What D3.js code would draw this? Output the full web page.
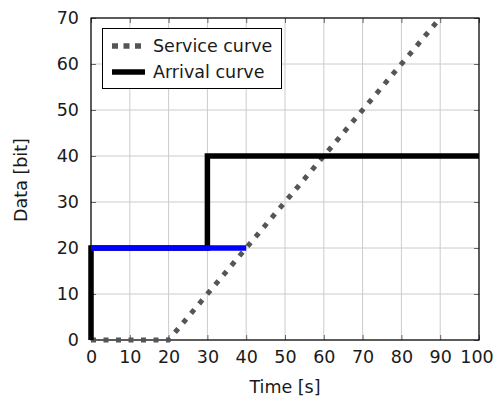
<!DOCTYPE html>
<html>
<head>
<meta charset="utf-8">
<script src="https://cdn.jsdelivr.net/npm/d3@7"></script>
<style>
  body { margin: 0; background: #fff; }
  text { font-family: "DejaVu Sans", sans-serif; }
</style>
</head>
<body>
<div id="chart"></div>
<script>
const xTicks = [0, 10, 20, 30, 40, 50, 60, 70, 80, 90, 100];
const yTicks = [0, 10, 20, 30, 40, 50, 60, 70];

const serviceX = [0, 20, 90];
const serviceY = [0, 0, 70];

const arrivalX = [0, 0, 30, 30, 100];
const arrivalY = [0, 20, 20, 40, 40];

const highlightX = [0, 40];
const highlightY = [20, 20];

const legendNames = ['Service curve', 'Arrival curve'];

const w = 494, h = 399;
const padL = 91, padR = 479, padT = 18, padB = 340;
const fs = 17.5;

const svg = d3.select('#chart').append('svg')
  .attr('width', w)
  .attr('height', h);

const xScale = d3.scaleLinear().domain([0, 100]).range([padL, padR]);
const yScale = d3.scaleLinear().domain([0, 70]).range([padB, padT]);

// grid
svg.append('g')
  .selectAll('line')
  .data(xTicks)
  .enter().append('line')
  .attr('x1', d => xScale(d)).attr('x2', d => xScale(d))
  .attr('y1', padT).attr('y2', padB)
  .attr('stroke', '#cccccc').attr('stroke-width', 1);

svg.append('g')
  .selectAll('line')
  .data(yTicks)
  .enter().append('line')
  .attr('x1', padL).attr('x2', padR)
  .attr('y1', d => yScale(d)).attr('y2', d => yScale(d))
  .attr('stroke', '#cccccc').attr('stroke-width', 1);

// axes (ticks point inward, mirrored on top/right)
const xAxis = d3.axisBottom(xScale).tickValues(xTicks).tickSizeInner(-5).tickSizeOuter(0).tickPadding(11);
const yAxis = d3.axisLeft(yScale).tickValues(yTicks).tickSizeInner(-5).tickSizeOuter(0).tickPadding(12);
const xTop = d3.axisTop(xScale).tickValues(xTicks).tickSizeInner(-5).tickSizeOuter(0).tickFormat('');
const yRight = d3.axisRight(yScale).tickValues(yTicks).tickSizeInner(-5).tickSizeOuter(0).tickFormat('');

const gx = svg.append('g')
  .attr('transform', 'translate(0,' + padB + ')')
  .call(xAxis);
const gy = svg.append('g')
  .attr('transform', 'translate(' + padL + ',0)')
  .call(yAxis);
const gt = svg.append('g')
  .attr('transform', 'translate(0,' + padT + ')')
  .call(xTop);
const gr = svg.append('g')
  .attr('transform', 'translate(' + padR + ',0)')
  .call(yRight);

[gx, gy, gt, gr].forEach(g => {
  g.selectAll('.domain').remove();
  g.selectAll('line').attr('stroke', '#666');
  g.selectAll('text').attr('font-size', fs).attr('fill', '#1a1a1a');
});

// keep the last x label inside the page
gx.selectAll('text').filter(d => d === 100).attr('dx', -2.5);

// frame
svg.append('rect')
  .attr('x', padL).attr('y', padT)
  .attr('width', padR - padL).attr('height', padB - padT)
  .attr('fill', 'none').attr('stroke', '#000').attr('stroke-width', 1.2);

const line = d3.line().x(d => xScale(d[0])).y(d => yScale(d[1]));

svg.append('path')
  .datum(d3.zip(serviceX, serviceY))
  .attr('d', line)
  .attr('fill', 'none')
  .attr('stroke', '#555')
  .attr('stroke-width', 5)
  .attr('stroke-dasharray', '5,7.5');

svg.append('path')
  .datum(d3.zip(arrivalX, arrivalY))
  .attr('d', line)
  .attr('fill', 'none')
  .attr('stroke', '#000')
  .attr('stroke-width', 5.5);

svg.append('path')
  .datum(d3.zip(highlightX, highlightY))
  .attr('d', line)
  .attr('fill', 'none')
  .attr('stroke', '#0000ff')
  .attr('stroke-width', 5.5);

// legend
const lg = svg.append('g');
lg.append('rect')
  .attr('x', 102.5).attr('y', 28.5)
  .attr('width', 179).attr('height', 60)
  .attr('fill', '#fff').attr('stroke', '#000').attr('stroke-width', 1);

lg.append('line')
  .attr('x1', 112).attr('x2', 144).attr('y1', 46).attr('y2', 46)
  .attr('stroke', '#555').attr('stroke-width', 5.5).attr('stroke-dasharray', '6,5.5');
lg.append('line')
  .attr('x1', 112).attr('x2', 145).attr('y1', 72).attr('y2', 72)
  .attr('stroke', '#000').attr('stroke-width', 5.5);

lg.selectAll('text')
  .data(legendNames)
  .enter().append('text')
  .attr('x', 153)
  .attr('y', (d, i) => 52 + i * 25.5)
  .attr('font-size', fs)
  .attr('fill', '#1a1a1a')
  .text(d => d);

// axis labels
svg.append('text')
  .attr('x', 285).attr('y', 393)
  .attr('text-anchor', 'middle')
  .attr('font-size', fs)
  .attr('fill', '#1a1a1a')
  .text('Time [s]');

svg.append('text')
  .attr('transform', 'translate(27,180) rotate(-90)')
  .attr('text-anchor', 'middle')
  .attr('font-size', fs)
  .attr('fill', '#1a1a1a')
  .text('Data [bit]');
</script>
</body>
</html>
